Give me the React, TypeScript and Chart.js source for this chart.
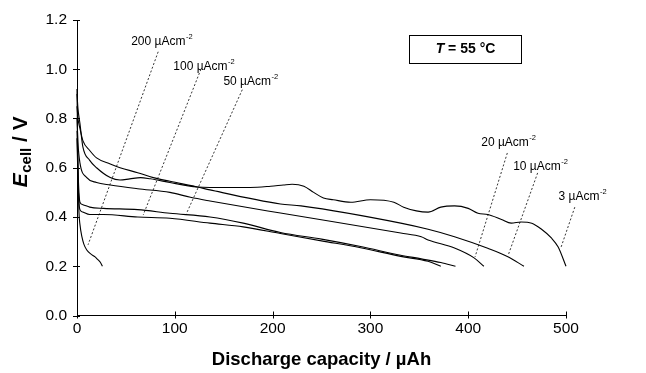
import React, { useEffect, useRef } from "react";
import { Chart, registerables } from "chart.js";
Chart.register(...registerables);

const FONT = "'Liberation Sans', Arial, Helvetica, sans-serif";

const xTickValues = [0, 100, 200, 300, 400, 500];
const yTickValues = [0, 0.2, 0.4, 0.6, 0.8, 1.0, 1.2];

// 3 uA cm-2
const cap3 = [0, 1, 3, 6, 13, 20, 34, 44, 54, 65, 75, 82, 95, 123, 136, 177, 198, 211, 220, 232, 242, 252, 262, 280, 300, 324, 334, 347, 359, 372, 386, 400, 410, 420, 434, 444, 454, 465, 475, 485, 492, 500];
const volt3 = [0.9, 0.84, 0.78, 0.685, 0.63, 0.6, 0.56, 0.55, 0.555, 0.56, 0.555, 0.55, 0.54, 0.522, 0.52, 0.52, 0.525, 0.53, 0.533, 0.525, 0.5, 0.477, 0.47, 0.46, 0.47, 0.46, 0.44, 0.425, 0.42, 0.44, 0.445, 0.435, 0.415, 0.41, 0.39, 0.375, 0.38, 0.375, 0.35, 0.315, 0.278, 0.2];
// 10 uA cm-2
const cap10 = [0, 1, 3, 6, 13, 20, 34, 44, 62, 78, 95, 123, 136, 208, 229, 331, 359, 386, 420, 440, 457];
const volt10 = [0.85, 0.8, 0.76, 0.71, 0.67, 0.64, 0.615, 0.6, 0.58, 0.56, 0.545, 0.522, 0.51, 0.453, 0.445, 0.375, 0.35, 0.32, 0.273, 0.24, 0.2];
// 20 uA cm-2
const cap20 = [0, 1, 3, 10, 20, 34, 62, 95, 116, 136, 208, 331, 352, 359, 386, 406, 416];
const volt20 = [0.8, 0.7, 0.62, 0.56, 0.54, 0.53, 0.515, 0.5, 0.48, 0.465, 0.416, 0.335, 0.32, 0.307, 0.274, 0.234, 0.2];
// 50 uA cm-2
const cap50 = [0, 1, 2, 3, 6, 13, 27, 62, 95, 136, 170, 208, 250, 290, 331, 352, 372, 387];
const volt50 = [0.75, 0.6, 0.5, 0.46, 0.45, 0.44, 0.435, 0.43, 0.415, 0.4, 0.375, 0.337, 0.31, 0.28, 0.245, 0.23, 0.215, 0.2];
// 100 uA cm-2
const cap100 = [0, 1, 2, 3, 6, 13, 27, 62, 95, 136, 170, 208, 250, 290, 331, 359, 372];
const volt100 = [0.72, 0.55, 0.46, 0.43, 0.42, 0.41, 0.41, 0.4, 0.395, 0.375, 0.36, 0.333, 0.303, 0.275, 0.24, 0.22, 0.2];
// 200 uA cm-2
const cap200 = [0, 0.5, 1, 1.5, 2, 3, 5, 7, 10, 14, 18.5, 21, 24, 26];
const volt200 = [0.92, 0.75, 0.6, 0.5, 0.42, 0.37, 0.32, 0.29, 0.266, 0.25, 0.238, 0.228, 0.215, 0.2];

// current-density labels: text, superscript, anchor (left, middle) in data units
const labelTexts = ["200 µAcm", "100 µAcm", "50 µAcm", "20 µAcm", "10 µAcm", "3 µAcm"];
const labelSup = "-2";
const labelX = [55.4, 98.5, 149.7, 413.3, 446, 492.3];
const labelY = [1.112, 1.01, 0.949, 0.701, 0.604, 0.482];
// leader lines: start (near label) and end (on curve)
const leaderX1 = [83, 126.7, 169, 440, 471, 509];
const leaderY1 = [1.071, 1.0, 0.917, 0.66, 0.579, 0.44];
const leaderX2 = [11.3, 67.7, 111.8, 407, 441, 495];
const leaderY2 = [0.287, 0.408, 0.413, 0.238, 0.246, 0.278];

// temperature box (data units)
const boxX = [339.5, 454];
const boxY = [1.138, 1.026];

const series = [
  { name: "3", x: cap3, y: volt3 },
  { name: "10", x: cap10, y: volt10 },
  { name: "20", x: cap20, y: volt20 },
  { name: "50", x: cap50, y: volt50 },
  { name: "100", x: cap100, y: volt100 },
  { name: "200", x: cap200, y: volt200 },
];

const overlayPlugin = {
  id: "overlay",
  afterDraw(chart: any) {
    const ctx = chart.ctx;
    const xs = chart.scales.x;
    const ys = chart.scales.y;
    const ca = chart.chartArea;
    ctx.save();
    // tick marks crossing the axes
    ctx.strokeStyle = "#000";
    ctx.lineWidth = 1;
    ctx.beginPath();
    yTickValues.forEach((v) => {
      const py = Math.round(ys.getPixelForValue(v)) + 0.5;
      ctx.moveTo(ca.left - 4, py);
      ctx.lineTo(ca.left + 3, py);
    });
    xTickValues.forEach((v) => {
      const px = Math.round(xs.getPixelForValue(v)) + 0.5;
      ctx.moveTo(px, ca.bottom - 4);
      ctx.lineTo(px, ca.bottom + 3);
    });
    ctx.stroke();

    // labels with superscript
    ctx.fillStyle = "#000";
    ctx.textBaseline = "middle";
    ctx.textAlign = "left";
    labelTexts.forEach((t, i) => {
      const px = xs.getPixelForValue(labelX[i]);
      const py = ys.getPixelForValue(labelY[i]);
      ctx.font = `12px ${FONT}`;
      ctx.fillText(t, px, py);
      const w = ctx.measureText(t).width;
      ctx.font = `7.5px ${FONT}`;
      ctx.fillText(labelSup, px + w + 0.5, py - 5);
    });

    // temperature box
    const bx1 = Math.round(xs.getPixelForValue(boxX[0])) + 0.5;
    const bx2 = Math.round(xs.getPixelForValue(boxX[1])) + 0.5;
    const by1 = Math.round(ys.getPixelForValue(boxY[0])) + 0.5;
    const by2 = Math.round(ys.getPixelForValue(boxY[1])) + 0.5;
    ctx.lineWidth = 1;
    ctx.strokeRect(bx1, by1, bx2 - bx1, by2 - by1);
    const t1 = "T";
    const t2 = " = 55 °C";
    const fs = 14;
    ctx.font = `italic bold ${fs}px ${FONT}`;
    const w1 = ctx.measureText(t1).width;
    ctx.font = `bold ${fs}px ${FONT}`;
    const w2 = ctx.measureText(t2).width;
    const cx = (bx1 + bx2) / 2;
    const cy = (by1 + by2) / 2;
    ctx.font = `italic bold ${fs}px ${FONT}`;
    ctx.fillText(t1, cx - (w1 + w2) / 2, cy);
    ctx.font = `bold ${fs}px ${FONT}`;
    ctx.fillText(t2, cx - (w1 + w2) / 2 + w1, cy);

    // x axis title
    ctx.textAlign = "center";
    ctx.textBaseline = "alphabetic";
    ctx.font = `bold 18.5px ${FONT}`;
    ctx.fillText("Discharge capacity / µAh", (ca.left + ca.right) / 2, 365);

    // y axis title (rotated), E italic with subscript "cell"
    ctx.save();
    ctx.translate(27, 152);
    ctx.rotate(-Math.PI / 2);
    ctx.textAlign = "left";
    const fE = `italic bold 21px ${FONT}`;
    const fS = `bold 15px ${FONT}`;
    const fV = `bold 21px ${FONT}`;
    ctx.font = fE;
    const wE = ctx.measureText("E").width;
    ctx.font = fS;
    const wS = ctx.measureText("cell").width;
    ctx.font = fV;
    const wV = ctx.measureText(" / V").width;
    let x0 = -(wE + wS + wV) / 2;
    ctx.font = fE;
    ctx.fillText("E", x0, 0);
    x0 += wE + 0.5;
    ctx.font = fS;
    ctx.fillText("cell", x0, 4);
    x0 += wS;
    ctx.font = fV;
    ctx.fillText(" / V", x0, 0);
    ctx.restore();

    ctx.restore();
  },
};

export default function App() {
  const ref = useRef<HTMLCanvasElement | null>(null);
  useEffect(() => {
    if (!ref.current) return;
    const datasets: any[] = series.map((s) => ({
      label: s.name,
      data: s.x.map((xv, i) => ({ x: xv, y: s.y[i] })),
      showLine: true,
      borderColor: "#000",
      borderWidth: 1.1,
      pointRadius: 0,
      cubicInterpolationMode: "monotone",
      fill: false,
      clip: false,
    }));
    leaderX1.forEach((_, i) => {
      datasets.push({
        label: "leader" + i,
        data: [
          { x: leaderX1[i], y: leaderY1[i] },
          { x: leaderX2[i], y: leaderY2[i] },
        ],
        showLine: true,
        borderColor: "#000",
        borderWidth: 0.8,
        borderDash: [2, 2],
        pointRadius: 0,
        fill: false,
        clip: false,
      });
    });
    const chart = new Chart(ref.current, {
      type: "scatter",
      data: { datasets },
      options: {
        animation: false,
        responsive: false,
        maintainAspectRatio: false,
        events: [],
        layout: { padding: { left: 0, top: 20, right: 80, bottom: 0 } },
        plugins: { legend: { display: false }, tooltip: { enabled: false } },
        scales: {
          x: {
            type: "linear",
            min: 0,
            max: 500,
            afterBuildTicks: (s: any) => {
              s.ticks = xTickValues.map((v) => ({ value: v }));
            },
            ticks: {
              color: "#000",
              font: { family: FONT, size: 15.5 },
              padding: 4,
              maxRotation: 0,
              callback: (v: any) => String(v),
            },
            grid: { display: false, drawTicks: false },
            border: { display: true, color: "#000", width: 1 },
            afterFit: (s: any) => {
              s.height = 57.5;
            },
          },
          y: {
            type: "linear",
            min: 0,
            max: 1.2,
            afterBuildTicks: (s: any) => {
              s.ticks = yTickValues.map((v) => ({ value: v }));
            },
            ticks: {
              color: "#000",
              font: { family: FONT, size: 15.5 },
              padding: 10,
              callback: (v: any) => Number(v).toFixed(1),
            },
            grid: { display: false, drawTicks: false },
            border: { display: true, color: "#000", width: 1 },
            afterFit: (s: any) => {
              s.width = 77;
            },
          },
        },
      },
      plugins: [overlayPlugin],
    });
    return () => chart.destroy();
  }, []);
  return (
    <div style={{ position: "fixed", left: 0, top: 0, width: 646, height: 373, background: "#fff" }}>
      <canvas ref={ref} width={646} height={373} style={{ width: 646, height: 373, display: "block" }} />
    </div>
  );
}
